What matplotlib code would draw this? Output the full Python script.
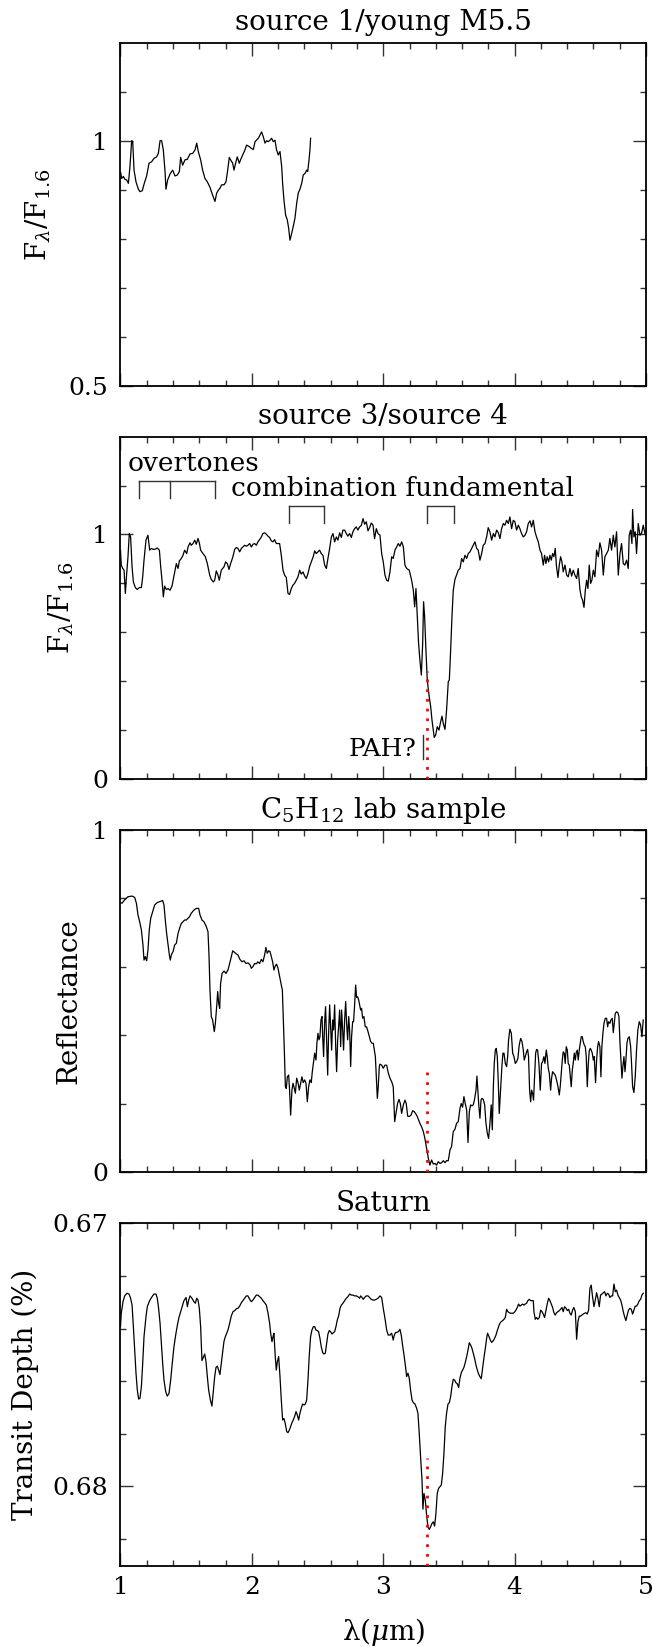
import matplotlib
matplotlib.use("Agg")
import matplotlib.pyplot as plt
from matplotlib.ticker import FixedLocator, FixedFormatter, MultipleLocator

plt.rcParams['font.family'] = ['DejaVu Serif']
plt.rcParams['mathtext.fontset'] = 'dejavuserif'

# ---------------- data ----------------
# Panel 1: source 1 / young M5.5
p1_wav = [1.001,1.009,1.022,1.034,1.047,1.060,1.072,1.085,1.093,1.103,
          1.118,1.136,1.148,1.166,1.181,1.199,1.217,1.237,1.255,1.275,
          1.288,1.301,1.313,1.326,1.339,1.346,1.359,1.377,1.397,1.415,
          1.433,1.448,1.458,1.473,1.491,1.509,1.529,1.549,1.567,1.580,
          1.592,1.610,1.625,1.643,1.661,1.681,1.701,1.719,1.732,1.745,
          1.757,1.770,1.788,1.803,1.816,1.828,1.838,1.854,1.864,1.879,
          1.889,1.904,1.914,1.930,1.947,1.960,1.980,1.998,2.011,2.024,
          2.049,2.074,2.087,2.100,2.112,2.125,2.138,2.150,2.163,2.176,
          2.188,2.201,2.214,2.227,2.234,2.244,2.257,2.270,2.280,2.290,
          2.303,2.315,2.328,2.341,2.353,2.366,2.379,2.391,2.404,2.417,
          2.425,2.435,2.442,2.447]
p1_flux = [0.935,0.923,0.927,0.921,0.920,0.913,0.947,1.000,0.998,0.940,
           0.916,0.901,0.896,0.898,0.913,0.928,0.954,0.957,0.964,0.967,
           0.974,1.000,1.000,0.981,0.937,0.901,0.920,0.932,0.940,0.928,
           0.930,0.937,0.966,0.950,0.961,0.962,0.973,0.974,0.981,0.995,
           0.978,0.961,0.940,0.923,0.916,0.905,0.889,0.876,0.893,0.899,
           0.903,0.910,0.910,0.916,0.940,0.966,0.961,0.954,0.940,0.957,
           0.967,0.954,0.961,0.971,0.981,0.991,0.988,0.984,0.982,0.998,
           1.005,1.018,1.008,0.995,1.000,0.998,1.001,1.005,0.998,1.001,
           0.981,0.971,0.978,0.947,0.913,0.879,0.848,0.838,0.821,0.797,
           0.811,0.825,0.842,0.872,0.893,0.901,0.913,0.930,0.933,0.940,
           0.937,0.961,0.981,1.005]

# Panel 2: source 3 / source 4
p2_wav = [1.000,1.006,1.017,1.027,1.037,1.047,1.057,1.067,1.077,1.088,
          1.098,1.113,1.128,1.143,1.159,1.169,1.179,1.194,1.209,1.222,
          1.235,1.250,1.265,1.280,1.296,1.306,1.316,1.326,1.336,1.349,
          1.362,1.377,1.392,1.407,1.425,1.438,1.448,1.463,1.476,1.488,
          1.504,1.514,1.529,1.539,1.552,1.565,1.577,1.590,1.600,1.610,
          1.628,1.646,1.661,1.679,1.691,1.707,1.717,1.729,1.742,1.752,
          1.767,1.788,1.800,1.813,1.826,1.838,1.854,1.869,1.882,1.894,
          1.907,1.920,1.932,1.945,1.958,1.970,1.983,1.996,2.008,2.021,
          2.034,2.046,2.059,2.072,2.084,2.097,2.110,2.123,2.135,2.148,
          2.161,2.173,2.186,2.199,2.211,2.224,2.237,2.249,2.262,2.275,
          2.287,2.300,2.313,2.325,2.338,2.351,2.364,2.376,2.389,2.402,
          2.414,2.427,2.440,2.452,2.468,2.478,2.490,2.503,2.516,2.528,
          2.541,2.554,2.567,2.579,2.592,2.605,2.617,2.630,2.643,2.655,
          2.668,2.681,2.693,2.706,2.719,2.731,2.744,2.757,2.769,2.782,
          2.795,2.807,2.820,2.833,2.846,2.858,2.871,2.884,2.896,2.909,
          2.922,2.934,2.947,2.960,
          2.975,2.988,3.000,3.013,3.026,3.038,3.051,3.064,3.076,3.089,
          3.102,3.115,3.127,3.140,3.153,3.165,3.178,3.198,3.216,3.229,
          3.239,3.249,3.259,3.269,3.279,3.290,3.300,3.307,3.315,3.325,
          3.335,3.350,3.361,3.371,3.381,3.388,3.399,3.411,3.424,3.437,
          3.447,3.457,3.470,3.482,3.495,3.503,3.513,3.523,3.533,3.546,
          3.558,3.571,3.584,3.597,3.609,3.622,3.635,3.647,3.660,3.673,
          3.685,3.698,3.711,3.723,3.736,3.749,3.761,3.774,3.787,3.799,
          3.812,3.825,3.838,3.850,3.863,3.876,3.888,3.901,3.914,3.926,
          3.939,3.952,3.964,3.977,3.990,4.002,4.015,4.028,4.040,4.053,
          4.066,4.079,4.091,4.104,4.117,4.129,4.142,4.155,4.167,4.180,
          4.193,4.205,4.218,4.228,4.238,4.248,4.259,4.269,4.279,4.289,
          4.299,4.309,4.319,4.330,4.340,4.350,4.360,4.370,4.383,4.396,
          4.408,4.421,4.434,4.446,4.459,4.472,4.484,4.497,4.507,4.517,
          4.528,4.538,4.548,4.558,4.568,4.578,4.588,4.599,4.611,4.624,
          4.637,4.649,4.662,4.675,4.687,4.700,4.713,4.725,4.738,4.751,
          4.763,4.776,4.789,4.802,4.814,4.827,4.839,4.852,4.865,4.872,
          4.883,4.893,4.898,4.908,4.918,4.928,4.941,4.954,4.966,4.979,
          4.992]
p2_flux = [0.936,0.875,0.861,0.854,0.759,0.840,0.909,1.004,0.990,0.868,
           0.806,0.783,0.775,0.783,0.783,0.827,0.895,0.977,0.997,0.936,
           0.943,0.939,0.940,0.945,0.936,0.868,0.813,0.745,0.789,0.775,
           0.779,0.772,0.789,0.830,0.881,0.861,0.892,0.902,0.915,0.936,
           0.922,0.949,0.966,0.956,0.963,0.977,0.960,0.984,0.966,0.936,
           0.922,0.909,0.881,0.834,0.816,0.806,0.813,0.851,0.834,0.813,
           0.854,0.868,0.888,0.881,0.857,0.881,0.906,0.939,0.947,0.943,
           0.929,0.943,0.949,0.956,0.952,0.956,0.963,0.949,0.960,0.963,
           0.956,0.970,0.979,0.990,1.004,1.007,1.001,0.993,0.988,0.974,
           0.970,0.979,0.963,0.963,0.963,0.915,0.854,0.834,0.824,0.759,
           0.755,0.779,0.793,0.800,0.813,0.827,0.854,0.838,0.847,0.830,
           0.820,0.840,0.870,0.888,0.911,0.933,0.922,0.929,0.936,0.922,
           0.915,0.875,0.861,0.902,0.943,0.990,1.004,0.970,0.990,0.977,
           1.007,0.988,1.018,1.018,1.004,0.993,1.004,0.988,1.011,1.024,
           1.031,1.018,1.031,1.037,1.065,1.042,1.052,1.015,1.028,1.047,
           1.038,0.983,1.024,1.004,
           0.997,0.922,0.888,0.834,0.813,0.809,0.847,0.909,0.902,0.936,
           0.949,0.963,0.952,0.970,0.949,0.875,0.861,0.854,0.813,0.772,
           0.704,0.779,0.663,0.554,0.486,0.425,0.554,0.725,0.663,0.527,
           0.405,0.336,0.296,0.241,0.200,0.170,0.180,0.214,0.200,0.234,
           0.257,0.227,0.203,0.282,0.398,0.405,0.527,0.663,0.772,0.817,
           0.834,0.854,0.861,0.902,0.888,0.915,0.902,0.922,0.929,0.943,
           0.956,0.970,0.943,0.936,0.895,0.922,0.956,0.963,0.990,1.028,
           1.011,0.977,1.004,0.990,1.018,1.007,0.983,1.024,1.045,1.038,
           1.058,1.045,1.072,1.024,1.058,1.052,1.018,1.038,1.024,1.004,
           0.990,0.997,1.011,1.045,1.056,1.031,1.058,1.011,0.990,0.970,
           0.936,0.922,0.875,0.915,0.881,0.909,0.888,0.915,0.895,0.922,
           0.909,0.943,0.868,0.824,0.875,0.909,0.888,0.847,0.875,0.834,
           0.827,0.861,0.830,0.854,0.834,0.820,0.861,0.775,0.745,0.732,
           0.702,0.772,0.813,0.779,0.875,0.800,0.813,0.854,0.827,0.936,
           0.909,0.966,0.936,0.834,0.909,0.922,0.936,0.984,0.936,0.997,
           0.949,1.011,0.834,0.922,0.963,0.881,0.875,0.895,0.861,0.997,
           1.018,0.963,1.102,0.990,1.011,0.922,1.045,0.997,1.004,1.038,
           1.004]

# Panel 3: C5H12 lab sample
p3_wav = [1.000,1.011,1.032,1.057,1.088,1.108,1.121,1.133,1.146,1.159,
          1.171,1.179,1.189,1.199,1.209,1.219,1.230,1.245,1.260,1.280,
          1.301,1.321,1.331,1.341,1.351,1.362,1.372,1.379,1.387,1.400,
          1.412,1.425,1.438,1.450,1.463,1.476,1.488,1.501,1.514,1.526,
          1.539,1.559,1.577,1.595,1.605,1.620,1.635,1.651,1.666,1.674,
          1.681,1.691,1.701,1.714,1.722,1.732,1.740,1.747,1.755,1.762,
          1.773,1.788,1.803,1.818,1.831,1.843,1.854,1.869,1.882,1.894,
          1.909,1.925,1.940,1.955,1.970,1.986,1.996,2.008,2.021,2.034,
          2.046,2.059,2.072,2.084,2.097,2.107,2.117,2.128,2.138,2.148,
          2.158,2.168,2.178,2.188,2.199,2.211,2.224,2.232,2.239,2.247,
          2.255,2.262,2.270,2.280,2.287,2.295,2.305,2.313,2.320,2.331,
          2.341,2.351,2.361,2.371,2.381,2.391,2.402,2.412,2.422,2.432,
          2.442,2.452,2.460,2.468,2.478,2.488,2.495,2.503,2.511,2.518,
          2.526,2.534,2.539,2.546,2.554,2.561,2.569,2.577,2.584,2.592,
          2.599,2.607,2.615,2.622,2.630,2.638,2.645,2.653,2.660,2.668,
          2.676,2.683,2.691,2.698,2.706,2.714,2.721,2.729,2.737,2.744,
          2.752,2.759,2.767,2.774,2.782,2.790,2.797,2.805,2.813,2.820,
          2.828,2.835,2.843,2.853,2.863,2.873,2.884,2.894,2.904,2.914,
          2.924,2.932,2.940,2.947,2.955,2.962,2.970,
          2.975,2.988,3.000,3.013,3.026,3.038,3.051,3.064,3.076,3.087,
          3.097,3.109,3.120,3.130,3.140,3.153,3.165,3.175,3.186,3.198,
          3.211,3.224,3.236,3.249,3.259,3.269,3.279,3.292,3.305,3.317,
          3.330,3.343,3.355,3.368,3.381,3.394,3.406,3.419,3.432,3.444,
          3.457,3.470,3.482,3.495,3.508,3.520,3.533,3.546,3.558,3.571,
          3.584,3.594,3.604,3.614,3.624,3.635,3.645,3.655,3.665,3.675,
          3.685,3.695,3.706,3.713,3.721,3.728,3.736,3.744,3.751,3.761,
          3.772,3.782,3.792,3.802,3.812,3.822,3.830,3.838,3.845,3.853,
          3.860,3.868,3.876,3.883,3.893,3.903,3.911,3.919,3.929,3.939,
          3.947,3.954,3.964,3.975,3.985,3.995,4.005,4.015,4.025,4.035,
          4.046,4.056,4.066,4.073,4.081,4.091,4.099,4.106,4.114,4.122,
          4.129,4.137,4.144,4.152,4.160,4.167,4.175,4.185,4.195,4.205,
          4.213,4.223,4.231,4.241,4.248,4.256,4.264,4.274,4.281,4.289,
          4.299,4.309,4.319,4.330,4.340,4.347,4.355,4.363,4.370,4.378,
          4.385,4.393,4.401,4.408,4.416,4.424,4.431,4.439,4.446,4.454,
          4.462,4.469,4.477,4.484,4.492,4.500,4.507,4.515,4.522,4.530,
          4.538,4.545,4.553,4.561,4.568,4.576,4.583,4.591,4.599,4.606,
          4.616,4.624,4.632,4.639,4.649,4.657,4.664,4.672,4.680,4.690,
          4.700,4.708,4.715,4.725,4.733,4.743,4.751,4.758,4.766,4.776,
          4.786,4.794,4.802,4.809,4.817,4.824,4.832,4.840,4.847,4.855,
          4.862,4.873,4.883,4.890,4.898,4.908,4.918,4.928,4.938,4.949,
          4.959,4.969,4.979]
p3_refl = [0.788,0.786,0.796,0.805,0.807,0.803,0.786,0.752,0.732,0.708,
           0.664,0.620,0.630,0.618,0.649,0.708,0.742,0.761,0.781,0.788,
           0.791,0.794,0.781,0.737,0.698,0.664,0.635,0.620,0.635,0.645,
           0.664,0.669,0.698,0.713,0.727,0.732,0.737,0.737,0.742,0.747,
           0.757,0.766,0.771,0.771,0.752,0.737,0.732,0.720,0.703,0.630,
           0.533,0.455,0.445,0.411,0.435,0.484,0.528,0.494,0.479,0.552,
           0.581,0.588,0.581,0.591,0.610,0.630,0.647,0.642,0.638,0.635,
           0.622,0.615,0.618,0.610,0.612,0.606,0.596,0.601,0.610,0.609,
           0.615,0.610,0.622,0.615,0.635,0.657,0.640,0.647,0.645,0.630,
           0.615,0.591,0.603,0.608,0.596,0.572,0.547,0.533,0.455,0.357,
           0.250,0.245,0.279,0.284,0.240,0.167,0.240,0.260,0.250,0.231,
           0.275,0.262,0.240,0.260,0.279,0.262,0.270,0.260,0.206,0.250,
           0.270,0.262,0.294,0.318,0.348,0.328,0.377,0.406,0.387,0.396,
           0.445,0.455,0.396,0.338,0.440,0.484,0.387,0.284,0.406,0.489,
           0.425,0.357,0.445,0.416,0.489,0.367,0.294,0.387,0.425,0.474,
           0.367,0.474,0.416,0.357,0.445,0.499,0.435,0.387,0.455,0.416,
           0.309,0.396,0.440,0.440,0.489,0.547,0.511,0.513,0.503,0.489,
           0.474,0.479,0.450,0.455,0.425,0.425,0.411,0.396,0.382,0.377,
           0.377,0.357,0.338,0.279,0.216,0.250,0.309,
           0.316,0.313,0.304,0.313,0.313,0.291,0.275,0.265,0.250,0.148,
           0.172,0.201,0.213,0.201,0.172,0.197,0.211,0.201,0.164,0.163,
           0.167,0.180,0.177,0.170,0.163,0.153,0.143,0.133,0.119,0.099,
           0.070,0.041,0.021,0.036,0.024,0.026,0.021,0.031,0.026,0.028,
           0.034,0.028,0.034,0.034,0.065,0.075,0.119,0.126,0.143,0.148,
           0.187,0.201,0.190,0.221,0.201,0.182,0.087,0.177,0.197,0.194,
           0.197,0.213,0.240,0.281,0.231,0.192,0.158,0.211,0.216,0.213,
           0.197,0.143,0.114,0.099,0.143,0.197,0.124,0.250,0.318,0.357,
           0.362,0.338,0.260,0.172,0.240,0.309,0.348,0.348,0.318,0.309,
           0.338,0.387,0.418,0.406,0.348,0.338,0.318,0.323,0.333,0.372,
           0.391,0.382,0.357,0.328,0.338,0.352,0.359,0.338,0.240,0.206,
           0.240,0.231,0.211,0.279,0.348,0.359,0.357,0.318,0.240,0.318,
           0.323,0.338,0.318,0.357,0.338,0.304,0.289,0.240,0.274,0.294,
           0.289,0.284,0.270,0.250,0.226,0.250,0.289,0.328,0.352,0.348,
           0.318,0.367,0.357,0.318,0.313,0.279,0.250,0.299,0.318,0.348,
           0.328,0.350,0.357,0.328,0.357,0.377,0.396,0.396,0.382,0.372,
           0.367,0.338,0.250,0.318,0.355,0.362,0.357,0.348,0.328,0.338,
           0.262,0.328,0.367,0.382,0.367,0.279,0.367,0.406,0.435,0.450,
           0.450,0.425,0.440,0.435,0.445,0.450,0.408,0.435,0.464,0.469,
           0.466,0.455,0.377,0.328,0.275,0.309,0.338,0.294,0.328,0.377,
           0.391,0.396,0.367,0.318,0.250,0.233,0.279,0.357,0.416,0.440,
           0.430,0.396,0.445]

# Panel 4: Saturn transit depth (%)
p4_wav = [1.000,1.006,1.019,1.032,1.049,1.065,1.077,1.088,1.098,1.108,
          1.118,1.128,1.138,1.148,1.159,1.169,1.179,1.194,1.204,1.222,
          1.240,1.255,1.270,1.280,1.290,1.301,1.311,1.321,1.331,1.344,
          1.356,1.369,1.382,1.394,1.407,1.420,1.433,1.445,1.458,1.471,
          1.483,1.499,1.509,1.519,1.529,1.539,1.549,1.559,1.570,1.580,
          1.590,1.600,1.610,1.620,1.630,1.641,1.651,1.661,1.671,1.684,
          1.696,1.707,1.717,1.727,1.737,1.747,1.757,1.767,1.778,1.788,
          1.798,1.808,1.818,1.831,1.843,1.856,1.869,1.882,1.894,1.907,
          1.920,1.932,1.945,1.958,1.970,1.983,1.996,2.008,2.021,2.034,
          2.046,2.059,2.072,2.084,2.097,2.110,2.123,2.135,2.143,2.153,
          2.161,2.168,2.178,2.186,2.194,2.204,2.214,2.224,2.234,2.244,
          2.254,2.265,2.275,2.285,2.295,2.305,2.315,2.325,2.336,2.346,
          2.356,2.366,2.376,2.386,2.397,2.407,2.417,2.427,2.437,2.447,
          2.457,2.468,2.478,2.488,2.498,2.508,2.518,2.528,2.539,2.549,
          2.559,2.569,2.579,2.589,2.599,2.610,2.620,2.630,2.640,2.650,
          2.660,2.671,2.681,2.693,2.706,2.719,2.731,2.744,2.757,2.769,
          2.782,2.795,2.807,2.820,2.828,2.838,2.848,2.858,2.871,2.884,
          2.896,2.909,2.922,2.934,2.947,2.960,
          2.975,2.988,3.000,3.013,3.026,3.038,3.051,3.064,3.076,3.082,
          3.092,3.102,3.115,3.127,3.137,3.147,3.158,3.168,3.178,3.188,
          3.198,3.208,3.219,3.229,3.241,3.254,3.264,3.274,3.284,3.295,
          3.302,3.310,3.320,3.330,3.340,3.350,3.361,3.371,3.381,3.391,
          3.401,3.411,3.421,3.432,3.442,3.452,3.462,3.472,3.482,3.493,
          3.503,3.513,3.523,3.533,3.543,3.553,3.564,3.574,3.584,3.594,
          3.604,3.614,3.624,3.635,3.645,3.655,3.665,3.675,3.685,3.695,
          3.706,3.716,3.726,3.736,3.746,3.756,3.766,3.777,3.787,3.794,
          3.805,3.815,3.825,3.838,3.848,3.858,3.868,3.878,3.888,3.898,
          3.909,3.919,3.929,3.939,3.949,3.959,3.969,3.980,3.990,4.000,
          4.010,4.020,4.030,4.040,4.051,4.061,4.071,4.081,4.091,4.101,
          4.112,4.122,4.132,4.142,4.147,4.157,4.167,4.177,4.188,4.198,
          4.208,4.218,4.228,4.238,4.248,4.259,4.269,4.279,4.289,4.299,
          4.309,4.319,4.330,4.340,4.350,4.360,4.370,4.380,4.391,4.401,
          4.411,4.421,4.431,4.441,4.451,4.462,4.472,4.482,4.492,4.502,
          4.512,4.522,4.533,4.543,4.553,4.563,4.573,4.583,4.593,4.604,
          4.614,4.624,4.634,4.644,4.654,4.664,4.675,4.685,4.695,4.705,
          4.715,4.725,4.736,4.746,4.756,4.766,4.776,4.786,4.796,4.807,
          4.817,4.827,4.837,4.847,4.857,4.867,4.878,4.888,4.898,4.908,
          4.918,4.928,4.938,4.949,4.959,4.969,4.979]
p4_depth = [0.67393,0.67342,0.67298,0.67276,0.67266,0.67269,0.67285,0.67311,0.67393,0.67482,
            0.67570,0.67634,0.67668,0.67666,0.67621,0.67532,0.67431,0.67355,0.67317,0.67294,
            0.67279,0.67269,0.67269,0.67285,0.67323,0.67380,0.67456,0.67532,0.67596,0.67640,
            0.67657,0.67647,0.67596,0.67532,0.67469,0.67425,0.67387,0.67358,0.67336,0.67315,
            0.67294,0.67282,0.67317,0.67292,0.67276,0.67282,0.67289,0.67298,0.67304,0.67285,
            0.67292,0.67323,0.67393,0.67522,0.67510,0.67497,0.67526,0.67583,0.67634,0.67672,
            0.67695,0.67634,0.67583,0.67548,0.67543,0.67558,0.67575,0.67532,0.67488,0.67448,
            0.67431,0.67418,0.67406,0.67380,0.67353,0.67336,0.67332,0.67325,0.67323,0.67315,
            0.67302,0.67294,0.67285,0.67276,0.67276,0.67289,0.67298,0.67292,0.67282,0.67273,
            0.67273,0.67279,0.67285,0.67294,0.67302,0.67311,0.67342,0.67380,0.67418,0.67450,
            0.67431,0.67418,0.67507,0.67558,0.67526,0.67507,0.67583,0.67672,0.67748,0.67742,
            0.67761,0.67792,0.67796,0.67786,0.67773,0.67758,0.67748,0.67735,0.67716,0.67729,
            0.67748,0.67722,0.67703,0.67687,0.67691,0.67687,0.67672,0.67596,0.67501,0.67431,
            0.67406,0.67393,0.67393,0.67406,0.67408,0.67412,0.67437,0.67469,0.67492,0.67497,
            0.67494,0.67456,0.67421,0.67408,0.67412,0.67421,0.67416,0.67412,0.67393,0.67368,
            0.67353,0.67323,0.67311,0.67304,0.67294,0.67285,0.67279,0.67269,0.67273,0.67273,
            0.67276,0.67276,0.67279,0.67285,0.67276,0.67282,0.67289,0.67282,0.67276,0.67276,
            0.67282,0.67289,0.67292,0.67292,0.67289,0.67285,
            0.67276,0.67282,0.67323,0.67361,0.67406,0.67425,0.67425,0.67418,0.67444,0.67429,
            0.67416,0.67415,0.67412,0.67403,0.67425,0.67463,0.67501,0.67539,0.67583,0.67570,
            0.67589,0.67634,0.67672,0.67682,0.67687,0.67703,0.67722,0.67799,0.67887,0.67976,
            0.68087,0.68027,0.68052,0.68109,0.68153,0.68164,0.68153,0.68141,0.68135,0.68151,
            0.68103,0.68027,0.68008,0.68001,0.67995,0.67951,0.67875,0.67773,0.67722,0.67687,
            0.67682,0.67659,0.67621,0.67593,0.67596,0.67606,0.67611,0.67624,0.67589,0.67568,
            0.67558,0.67548,0.67530,0.67507,0.67482,0.67454,0.67463,0.67475,0.67494,0.67513,
            0.67539,0.67558,0.67573,0.67583,0.67591,0.67551,0.67513,0.67475,0.67437,0.67418,
            0.67431,0.67444,0.67453,0.67446,0.67437,0.67425,0.67408,0.67393,0.67380,0.67374,
            0.67370,0.67365,0.67358,0.67327,0.67336,0.67340,0.67342,0.67342,0.67342,0.67337,
            0.67330,0.67320,0.67307,0.67315,0.67311,0.67307,0.67311,0.67307,0.67304,0.67294,
            0.67289,0.67294,0.67294,0.67294,0.67336,0.67365,0.67358,0.67365,0.67358,0.67330,
            0.67336,0.67345,0.67358,0.67332,0.67307,0.67285,0.67294,0.67307,0.67320,0.67340,
            0.67349,0.67340,0.67336,0.67332,0.67327,0.67320,0.67336,0.67317,0.67323,0.67332,
            0.67327,0.67342,0.67349,0.67330,0.67320,0.67336,0.67441,0.67374,0.67353,0.67353,
            0.67349,0.67345,0.67342,0.67340,0.67345,0.67330,0.67247,0.67235,0.67279,0.67317,
            0.67292,0.67264,0.67285,0.67317,0.67273,0.67269,0.67264,0.67260,0.67276,0.67266,
            0.67269,0.67282,0.67276,0.67276,0.67231,0.67260,0.67254,0.67273,0.67282,0.67292,
            0.67311,0.67336,0.67355,0.67370,0.67349,0.67330,0.67323,0.67327,0.67345,0.67330,
            0.67315,0.67315,0.67307,0.67294,0.67289,0.67273,0.67266]

titles = ["source 1/young M5.5", "source 3/source 4",
          "C$_5$H$_{12}$ lab sample", "Saturn"]
ylabels = ["F$_\\lambda$/F$_{1.6}$", "F$_\\lambda$/F$_{1.6}$",
           "Reflectance", "Transit Depth (%)"]
xlabel = "λ($\\mu$m)"

ylims = [(0.5, 1.2), (0.0, 1.4), (0.0, 1.0), (0.68303, 0.67)]
ymajor = [[0.5, 1.0], [0.0, 1.0], [0.0, 1.0], [0.67, 0.68]]
ymajor_labels = [["0.5", "1"], ["0", "1"], ["0", "1"], ["0.67", "0.68"]]
yminor = [[0.6, 0.7, 0.8, 0.9, 1.1], [0.2, 0.4, 0.6, 0.8, 1.2],
          [0.2, 0.4, 0.6, 0.8], [0.672, 0.674, 0.676, 0.678, 0.682]]
xmajor = [1, 2, 3, 4, 5]
xmajor_labels = ["1", "2", "3", "4", "5"]

# PAH marker (3.33 micron) and its upper ends in panels 2-4
pah_wav = 3.33
pah_top = [None, 0.44, 0.31, 0.67894]

# band brackets in panel 2
overtone_legs = [1.14, 1.38, 1.72]
combination_legs = [2.28, 2.55]
fundamental_legs = [3.33, 3.54]
overtone_y = (1.151, 1.218)
band_y = (1.049, 1.1185)

# ---------------- figure ----------------
W, H = 652, 1647
fig = plt.figure(figsize=(W / 100, H / 100), dpi=100)
left = 120.5 / W
width = 525.5 / W
rects = [(42.7, 385.7), (436.7, 779.0), (830.0, 1172.3), (1223.3, 1566.0)]
ylabel_x = [-0.157, -0.112, -0.098, -0.182]

wavs = [p1_wav, p2_wav, p3_wav, p4_wav]
vals = [p1_flux, p2_flux, p3_refl, p4_depth]

axes = []
for i, (top, bot) in enumerate(rects):
    ax = fig.add_axes([left, 1 - bot / H, width, (bot - top) / H])
    axes.append(ax)
    n = min(len(wavs[i]), len(vals[i]))
    ax.plot(wavs[i][:n], vals[i][:n], color='black', lw=0.9, zorder=3)
    ax.set_xlim(1, 5)
    ax.set_ylim(*ylims[i])
    ax.xaxis.set_major_locator(FixedLocator(xmajor))
    ax.xaxis.set_minor_locator(MultipleLocator(0.2))
    ax.yaxis.set_major_locator(FixedLocator(ymajor[i]))
    ax.yaxis.set_major_formatter(FixedFormatter(ymajor_labels[i]))
    ax.yaxis.set_minor_locator(FixedLocator(yminor[i]))
    ax.tick_params(which='both', direction='in', top=True, right=True,
                   width=1.0, color='#333333')
    ax.tick_params(which='major', length=9.7, labelsize=18, pad=9)
    ax.tick_params(which='minor', length=4.5)
    for s in ax.spines.values():
        s.set_linewidth(1.3)
    if i < 3:
        ax.tick_params(labelbottom=False)
    else:
        ax.xaxis.set_major_formatter(FixedFormatter(xmajor_labels))
        ax.tick_params(axis='x', pad=7)
        ax.set_xlabel(xlabel, fontsize=20, va='center')
        ax.xaxis.set_label_coords(0.5, -0.193)
    ax.set_title(titles[i], fontsize=20, pad=9)
    ax.set_ylabel(ylabels[i], fontsize=20, va='center')
    ax.yaxis.set_label_coords(ylabel_x[i], 0.5)
    if pah_top[i] is not None:
        ax.plot([pah_wav, pah_wav], [ylims[i][0], pah_top[i]], color='red',
                lw=2.0, linestyle=(0, (1, 2.5)), zorder=4)

# panel 2 annotations
ax2 = axes[1]
bc = '#333333'
ax2.plot([overtone_legs[0], overtone_legs[-1]], [overtone_y[1]] * 2, color=bc, lw=1.0)
for xl in overtone_legs:
    ax2.plot([xl, xl], list(overtone_y), color=bc, lw=1.0)
for legs in (combination_legs, fundamental_legs):
    ax2.plot(legs, [band_y[1]] * 2, color=bc, lw=1.0)
    for xl in legs:
        ax2.plot([xl, xl], list(band_y), color=bc, lw=1.0)
ax2.text(1.054, 1.259, "overtones", fontsize=19, ha='left', va='baseline')
ax2.text(1.843, 1.158, "combination fundamental", fontsize=19, ha='left', va='baseline')
ax2.text(3.25, 0.094, "PAH?", fontsize=18, ha='right', va='baseline')
ax2.plot([3.303, 3.303], [0.08, 0.18], color=bc, lw=1.0)

fig.savefig("out.png", dpi=100)
